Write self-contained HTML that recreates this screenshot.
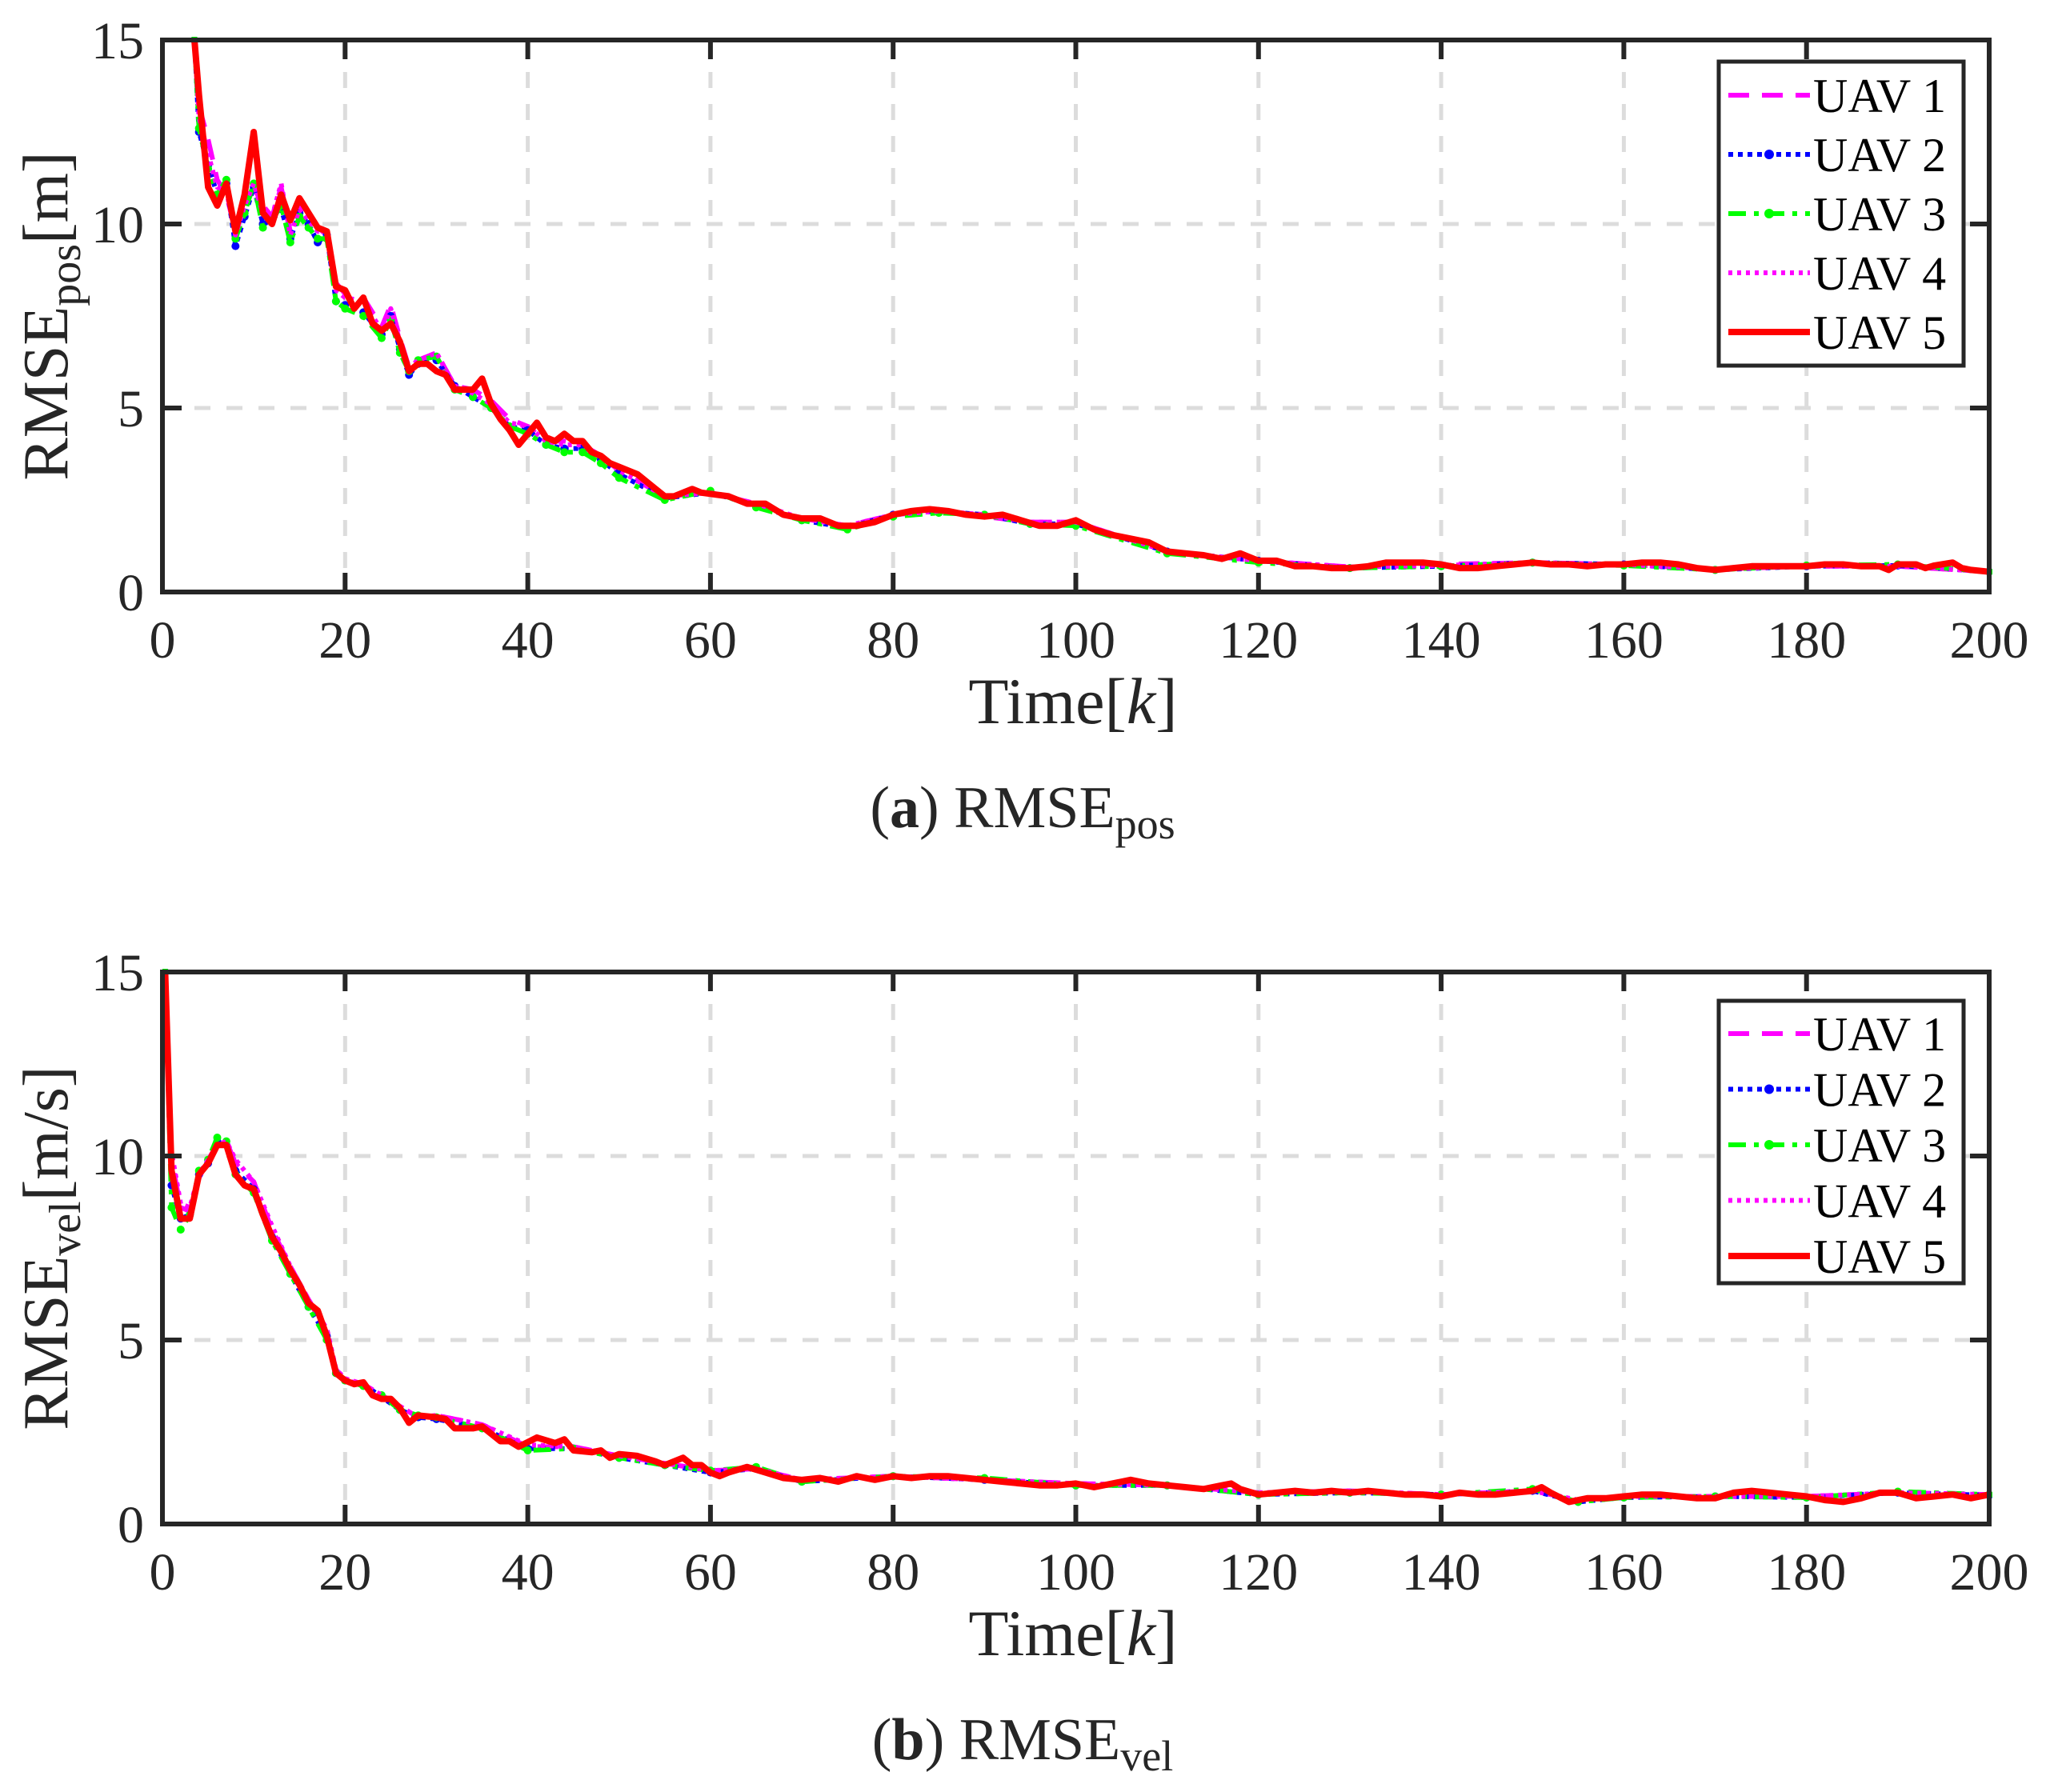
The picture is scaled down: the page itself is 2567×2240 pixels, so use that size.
<!DOCTYPE html>
<html><head><meta charset="utf-8"><style>
html,body{margin:0;padding:0;background:#fff;}
svg{display:block;font-family:"Liberation Serif",serif;}
</style></head><body>
<svg id="fig" width="2567" height="2240" viewBox="0 0 2567 2240" xmlns="http://www.w3.org/2000/svg"></svg>
<script>
// ---------- shared axis data ----------
const xTicks = [0,20,40,60,80,100,120,140,160,180,200];
const yTicks = [0,5,10,15];
const seriesNames = ["UAV 1","UAV 2","UAV 3","UAV 4","UAV 5"];

// ---------- panel (a): RMSE_pos ----------
const posK5 = [3.5,4,5,6,7,8,9,10,11,12,13,14,15,16,17,18,19,20,21,22,23,24,25,26,27,28,29,30,31,32,33,34,35,36,37,38,39,40,41,42,43,44,45,46,47,48,49,50,52,54,55,56,58,59,62,64,66,68,70,72,74,76,78,80,82,84,86,88,90,92,94,96,98,100,102,104,106,108,110,112,114,116,118,120,122,124,126,128,130,132,134,136,138,140,142,144,146,148,150,152,154,156,158,160,162,164,166,168,170,172,174,176,178,180,182,184,186,188,189,190,192,193,194,196,197,198,200];
const posV5 = [15,13.5,11,10.5,11.1,9.8,10.8,12.5,10.3,10,10.8,10.1,10.7,10.3,9.9,9.8,8.3,8.2,7.7,8.0,7.3,7.1,7.3,6.8,6.0,6.2,6.2,6.0,5.9,5.5,5.5,5.5,5.8,5.1,4.7,4.4,4.0,4.3,4.6,4.2,4.1,4.3,4.1,4.1,3.8,3.7,3.5,3.4,3.2,2.8,2.6,2.6,2.8,2.7,2.6,2.4,2.4,2.1,2.0,2.0,1.8,1.8,1.9,2.1,2.2,2.25,2.2,2.1,2.05,2.1,1.95,1.8,1.8,1.95,1.7,1.55,1.45,1.35,1.1,1.05,1.0,0.9,1.05,0.85,0.85,0.7,0.7,0.65,0.65,0.7,0.8,0.8,0.8,0.75,0.65,0.65,0.7,0.75,0.8,0.75,0.75,0.7,0.75,0.75,0.8,0.8,0.75,0.65,0.6,0.65,0.7,0.7,0.7,0.7,0.75,0.75,0.7,0.7,0.6,0.75,0.75,0.65,0.72,0.8,0.65,0.6,0.55];
const posK1 = [3.5,4,5,6,7,8,9,10,11,12,13,14,15,16,17,18,19,20,22,24,25,26,27,28,30,32,34,36,38,40,42,44,46,48,50,55,60,65,70,75,80,85,90,95,100,110,120,130,140,150,160,170,180,190,200];
const posV1 = [15,13.2,12.3,11.2,10.8,9.8,10.4,11.0,10.5,10.2,11.0,9.8,10.5,10.2,9.9,9.7,8.4,8.1,8.0,7.2,7.8,6.9,6.1,6.3,6.5,5.6,5.5,5.2,4.7,4.5,4.1,4.1,4.0,3.7,3.3,2.6,2.7,2.4,2.0,1.8,2.1,2.2,2.05,1.9,1.9,1.1,0.85,0.68,0.75,0.8,0.75,0.62,0.7,0.7,0.55];
const posK2 = [3.5,4,5,6,7,8,9,10,11,12,13,14,15,16,17,18,19,20,22,24,25,26,27,28,30,32,34,36,38,40,42,44,46,48,50,55,60,65,70,75,80,85,90,95,100,110,120,130,140,150,160,170,180,190,200];
const posV2 = [15,12.5,11.6,10.8,11.1,9.4,10.2,11.0,10.0,10.1,10.4,9.6,10.3,10.0,9.5,9.7,7.9,7.8,7.6,7.0,7.5,6.6,5.9,6.2,6.3,5.6,5.3,5.0,4.5,4.4,4.0,3.9,3.9,3.6,3.2,2.55,2.7,2.35,1.95,1.75,2.1,2.2,2.1,1.85,1.85,1.1,0.85,0.65,0.7,0.8,0.75,0.6,0.7,0.72,0.55];
const posK3 = [3.5,4,5,6,7,8,9,10,11,12,13,14,15,16,17,18,19,20,22,24,25,26,27,28,30,32,34,36,38,40,42,44,46,48,50,55,60,65,70,75,80,85,90,95,100,110,120,130,140,150,160,170,180,190,200];
const posV3 = [15,12.6,11.5,10.8,11.2,9.6,10.3,11.1,9.9,10.1,10.5,9.5,10.2,9.9,9.6,9.6,7.9,7.7,7.5,6.9,7.4,6.5,6.0,6.3,6.4,5.5,5.3,5.0,4.5,4.3,4.0,3.8,3.8,3.5,3.1,2.5,2.75,2.3,1.95,1.7,2.05,2.15,2.1,1.85,1.8,1.05,0.8,0.65,0.7,0.8,0.72,0.6,0.72,0.75,0.55];
const posK4 = [3.5,4,5,6,7,8,9,10,11,12,13,14,15,16,17,18,19,20,22,24,25,26,27,28,30,32,34,36,38,40,42,44,46,48,50,55,60,65,70,75,80,85,90,95,100,110,120,130,140,150,160,170,180,190,200];
const posV4 = [15,12.9,11.9,11.0,10.9,9.7,10.5,11.1,10.3,10.2,11.1,9.7,10.4,10.1,9.8,9.8,8.2,8.0,7.9,7.1,7.7,6.8,6.1,6.3,6.5,5.6,5.4,5.1,4.6,4.5,4.1,4.0,4.0,3.7,3.3,2.6,2.7,2.4,2.0,1.8,2.1,2.2,2.1,1.9,1.9,1.1,0.85,0.68,0.72,0.8,0.75,0.62,0.7,0.7,0.55];

// ---------- panel (b): RMSE_vel ----------
const velK5 = [0.3,1,2,3,4,5,6,7,8,9,10,11,12,13,14,15,16,17,18,19,20,21,22,23,24,25,26,27,28,30,31,32,34,35,36,37,38,39,41,43,44,45,47,48,49,50,52,54,55,56,57,58,59,60,61,62,64,66,68,70,72,74,76,78,80,82,84,86,88,90,92,94,96,98,100,102,104,106,108,110,112,114,116,117,118,120,122,124,126,128,130,132,134,136,138,140,142,144,146,148,150,151,152,154,156,158,160,162,164,166,168,170,172,174,176,178,180,182,184,186,188,190,192,194,196,198,200];
const velV5 = [15,9.6,8.3,8.3,9.5,9.8,10.3,10.3,9.5,9.2,9.1,8.4,7.8,7.4,6.9,6.5,6.0,5.8,5.1,4.1,3.9,3.8,3.85,3.5,3.4,3.4,3.15,2.75,2.95,2.9,2.85,2.6,2.6,2.65,2.45,2.25,2.25,2.1,2.35,2.2,2.3,2.0,1.95,2.0,1.8,1.9,1.85,1.7,1.6,1.7,1.8,1.6,1.6,1.4,1.3,1.4,1.55,1.4,1.25,1.2,1.25,1.15,1.3,1.2,1.3,1.25,1.3,1.3,1.25,1.2,1.15,1.1,1.05,1.05,1.1,1.0,1.1,1.2,1.1,1.05,1.0,0.95,1.05,1.1,0.95,0.8,0.85,0.9,0.85,0.9,0.85,0.9,0.85,0.8,0.8,0.75,0.85,0.8,0.8,0.85,0.9,1.0,0.85,0.6,0.7,0.7,0.75,0.8,0.8,0.75,0.7,0.7,0.85,0.9,0.85,0.8,0.75,0.65,0.6,0.7,0.85,0.85,0.7,0.75,0.8,0.7,0.8];
const velK1 = [0.3,1,2,3,4,5,6,7,8,10,12,14,16,18,19,20,22,24,26,28,30,35,40,45,50,55,60,65,70,80,90,100,110,120,130,140,150,155,160,170,180,190,200];
const velV1 = [15,9.9,8.6,8.5,9.4,9.9,10.3,10.4,9.8,9.3,8.0,7.0,6.1,5.2,4.2,3.9,3.8,3.5,3.2,2.9,2.95,2.7,2.1,2.1,1.85,1.65,1.45,1.5,1.2,1.3,1.2,1.1,1.05,0.85,0.9,0.8,0.9,0.65,0.75,0.75,0.75,0.85,0.8];
const velK2 = [0.3,1,2,3,4,5,6,7,8,10,12,14,16,18,19,20,22,24,26,28,30,35,40,45,50,55,60,65,70,80,90,100,110,120,130,140,150,155,160,170,180,190,200];
const velV2 = [15,9.2,8.3,8.4,9.5,9.8,10.4,10.3,9.6,9.1,7.8,6.8,5.9,5.1,4.1,3.9,3.8,3.45,3.1,2.9,2.85,2.6,2.05,2.05,1.8,1.6,1.4,1.5,1.15,1.3,1.2,1.05,1.05,0.8,0.85,0.8,0.9,0.6,0.72,0.75,0.72,0.85,0.78];
const velK3 = [0.3,1,2,3,4,5,6,7,8,10,12,14,16,18,19,20,22,24,26,28,30,35,40,45,50,55,60,65,70,80,90,100,110,120,130,140,150,155,160,170,180,190,200];
const velV3 = [15,8.6,8.0,8.4,9.6,9.9,10.5,10.4,9.5,9.0,7.7,6.8,5.9,5.0,4.1,3.9,3.75,3.5,3.1,2.95,2.9,2.6,2.0,2.05,1.8,1.6,1.45,1.55,1.15,1.3,1.25,1.05,1.05,0.8,0.85,0.8,0.95,0.6,0.72,0.75,0.72,0.88,0.8];
const velK4 = [0.3,1,2,3,4,5,6,7,8,10,12,14,16,18,19,20,22,24,26,28,30,35,40,45,50,55,60,65,70,80,90,100,110,120,130,140,150,155,160,170,180,190,200];
const velV4 = [15,10.1,8.7,8.6,9.5,9.9,10.3,10.4,9.9,9.3,8.1,7.0,6.1,5.3,4.2,3.95,3.8,3.5,3.2,2.9,2.95,2.7,2.15,2.1,1.85,1.65,1.45,1.5,1.2,1.3,1.2,1.1,1.05,0.85,0.9,0.8,0.9,0.65,0.75,0.75,0.75,0.85,0.8];

const NS = "http://www.w3.org/2000/svg";
const svg = document.getElementById("fig");
function mk(tag, attrs, parent){
  const e = document.createElementNS(NS, tag);
  for (const k in attrs) e.setAttribute(k, attrs[k]);
  (parent||svg).appendChild(e);
  return e;
}
const X0 = 203, X1 = 2486;
const styles = [
  {stroke:"#ff00ff", w:6, dash:"26 16", dot:false},
  {stroke:"#0000ff", w:6, dash:"6 6", dot:true},
  {stroke:"#00ff00", w:6, dash:"22 10 6 10", dot:true},
  {stroke:"#ff00ff", w:6, dash:"5 6", dot:false},
  {stroke:"#ff0000", w:8, dash:"", dot:false}
];

function panel(cfg){
  const yTop = cfg.yTop, yBot = cfg.yBot;
  const sx = k => X0 + (k/200)*(X1-X0);
  const sy = v => yBot - (v/15)*(yBot-yTop);
  const g = mk("g", {});
  
  
  const grid = mk("g", {}, g);
  
  
  xTicks.forEach(t => { if (t>0 && t<200) mk("line",{x1:sx(t),x2:sx(t),y1:yTop,y2:yBot,stroke:"#dcdcdc","stroke-width":5,"stroke-dasharray":"20 20"},grid); });
  yTicks.forEach(t => { if (t>0 && t<15) mk("line",{x1:X0,x2:X1,y1:sy(t),y2:sy(t),stroke:"#dcdcdc","stroke-width":5,"stroke-dasharray":"20 20"},grid); });
  const sers = mk("g", {"clip-path":"url(#"+cfg.clip+")"}, g);
  const cp = mk("clipPath",{id:cfg.clip},g);
  mk("rect",{x:X0,y:yTop-4,width:X1-X0+4,height:yBot-yTop+4},cp);
  cfg.series.forEach((s,i) => {
    const st = styles[i];
    const d = s.k.map((k,j)=> (j?"L":"M")+sx(k).toFixed(1)+","+sy(s.v[j]).toFixed(1)).join(" ");
    const p = mk("path",{d:d,fill:"none",stroke:st.stroke,"stroke-width":st.w,"stroke-dasharray":st.dash,"stroke-linejoin":"round"},sers);
    
    
    if (st.dot) s.k.forEach((k,j)=>{ mk("circle",{cx:sx(k),cy:sy(s.v[j]),r:5,fill:st.stroke},sers); });
  });
  const box = mk("rect",{x:X0,y:yTop,width:X1-X0,height:yBot-yTop,fill:"none",stroke:"#262626","stroke-width":6},g);
  
  
  xTicks.forEach(t => {
    mk("line",{x1:sx(t),x2:sx(t),y1:yTop,y2:yTop+24,stroke:"#262626","stroke-width":6},g);
    mk("line",{x1:sx(t),x2:sx(t),y1:yBot,y2:yBot-24,stroke:"#262626","stroke-width":6},g);
    const tx = mk("text",{x:sx(t),y:yBot+82,"text-anchor":"middle","font-size":66,fill:"#262626"},g);
    tx.textContent = t;
    
    
  });
  yTicks.forEach(t => {
    mk("line",{x1:X0,x2:X0+24,y1:sy(t),y2:sy(t),stroke:"#262626","stroke-width":6},g);
    mk("line",{x1:X1,x2:X1-24,y1:sy(t),y2:sy(t),stroke:"#262626","stroke-width":6},g);
    const ty = mk("text",{x:180,y:sy(t)+23,"text-anchor":"end","font-size":66,fill:"#262626"},g);
    ty.textContent = t;
    
    
  });
  const xt = mk("text",{x:1341,y:yBot+164,"text-anchor":"middle","font-size":82,fill:"#262626"},g);
  xt.innerHTML = 'Time[<tspan font-style="italic">k</tspan>]';
  
  
  const yc = (yTop+yBot)/2;
  const yt = mk("text",{x:0,y:0,"text-anchor":"middle","font-size":80,fill:"#262626",transform:"translate(84,"+yc+") rotate(-90)"},g);
  yt.innerHTML = 'RMSE<tspan font-size="56" dy="16">'+cfg.sub+'</tspan><tspan dy="-16">'+cfg.unit+'</tspan>';
  
  
  const cap = mk("text",{x:1278,y:yBot+294,"text-anchor":"middle","font-size":74,fill:"#262626"},g);
  cap.innerHTML = '(<tspan font-weight="bold">'+cfg.letter+'</tspan>)  RMSE<tspan font-size="54" dy="14">'+cfg.sub+'</tspan>';
  
  
  const L = cfg.legend;
  const lg = mk("g",{},g);
  
  
  mk("rect",{x:L.x,y:L.y,width:306,height:L.h,fill:"#fff",stroke:"#262626","stroke-width":5},lg);
  seriesNames.forEach((n,i)=>{
    const ry = L.y + L.first + i*L.step;
    const st = styles[i];
    const e = mk("g",{},lg);
    
    
    mk("line",{x1:L.x+12,x2:L.x+114,y1:ry,y2:ry,stroke:st.stroke,"stroke-width":st.w,"stroke-dasharray":st.dash},e);
    if (st.dot) mk("circle",{cx:L.x+63,cy:ry,r:6,fill:st.stroke},e);
    const t = mk("text",{x:L.x+118,y:ry+21,"font-size":60,fill:"#000"},e);
    t.textContent = n;
  });
}

panel({name:"panel-a-rmse-pos", yTop:50, yBot:740, clip:"clipA", sub:"pos", unit:"[m]", letter:"a",
  series:[{k:posK1,v:posV1},{k:posK2,v:posV2},{k:posK3,v:posV3},{k:posK4,v:posV4},{k:posK5,v:posV5}],
  legend:{x:2148,y:77,h:380,first:42,step:74}});
panel({name:"panel-b-rmse-vel", yTop:1215, yBot:1905, clip:"clipB", sub:"vel", unit:"[m/s]", letter:"b",
  series:[{k:velK1,v:velV1},{k:velK2,v:velV2},{k:velK3,v:velV3},{k:velK4,v:velV4},{k:velK5,v:velV5}],
  legend:{x:2148,y:1251,h:353,first:41,step:69.5}});
</script>
</body></html>
